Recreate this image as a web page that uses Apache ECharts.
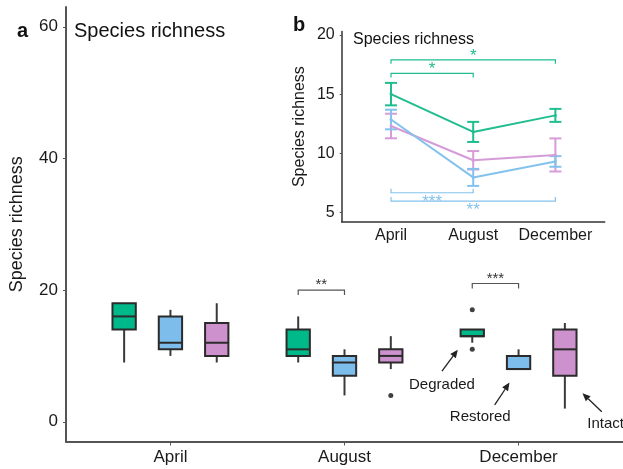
<!DOCTYPE html>
<html>
<head>
<meta charset="utf-8">
<script src="https://cdn.jsdelivr.net/npm/echarts@6/dist/echarts.min.js"></script>
<style>
  html, body { margin: 0; padding: 0; background: #fff; }
  #chart { width: 623px; height: 469px; }
</style>
</head>
<body>
<div id="chart"></div>
<script>
// --- data ---
const months = ['April', 'August', 'December'];
const groups = ['Degraded', 'Restored', 'Intact'];
// box stats per month: [min, Q1, median, Q3, max]
const degradedBox = [[9, 14, 16, 18, 18], [9, 10, 11, 14, 16], [12, 13, 13, 14, 14]];
const restoredBox = [[10, 11, 12, 16, 17], [4, 7, 9, 10, 11], [8, 8, 8, 10, 11]];
const intactBox = [[9, 10, 12, 15, 18], [8, 9, 10, 11, 13], [2, 7, 11, 14, 15]];
const degradedOutliers = [[], [], [17, 11]];
const restoredOutliers = [[], [], []];
const intactOutliers = [[], [4], []];
// inset: mean and standard error per month
const degradedMean = [15.0, 11.8, 13.2];
const degradedSE = [0.95, 0.85, 0.55];
const restoredMean = [12.85, 7.95, 9.3];
const restoredSE = [0.83, 0.72, 0.45];
const intactMean = [12.3, 9.4, 9.85];
const intactSE = [1.04, 0.78, 1.4];
// significance marks
const boxSig = [
  { month: 1, a: 0, b: 1, level: 20, stars: '**' },
  { month: 2, a: 0, b: 1, level: 21, stars: '***' }
];
const insetSig = [
  { group: 0, from: 0, to: 1, level: 16.75, stars: '*' },
  { group: 0, from: 0, to: 2, level: 17.9, stars: '*' },
  { group: 1, from: 0, to: 1, level: 6.65, stars: '***' },
  { group: 1, from: 0, to: 2, level: 5.95, stars: '**' }
];

const boxes = [degradedBox, restoredBox, intactBox];
const outliers = [degradedOutliers, restoredOutliers, intactOutliers];
const means = [degradedMean, restoredMean, intactMean];
const ses = [degradedSE, restoredSE, intactSE];

// --- layout / style ---
const FONT = "'Liberation Sans', Arial, sans-serif";
const fillColors = ['#00b98b', '#7cbdec', '#cd92cd'];
const lineColors = ['#1fbd8f', '#84c2ee', '#d59cd8'];
const offsets = [-0.266, 0, 0.266];
const boxHalf = 0.067;

const annotations = [
  { text: 'Degraded', tx: 2.56, ty: 5.6, from: [2.56, 7.7], to: [2.651, 10.95] },
  { text: 'Restored', tx: 2.78, ty: 0.7, from: [2.863, 2.55], to: [2.948, 5.95] },
  { text: 'Intact', tx: 3.5, ty: -0.35, from: [3.478, 1.53], to: [3.367, 4.34] }
];

const chart = echarts.init(document.getElementById('chart'));

function boxRender(params, api) {
  const x = api.value(0);
  const lo = api.coord([x, api.value(1)]);
  const q1 = api.coord([x, api.value(2)]);
  const md = api.coord([x, api.value(3)]);
  const q3 = api.coord([x, api.value(4)]);
  const hi = api.coord([x, api.value(5)]);
  const hw = api.size([boxHalf, 0])[0];
  const stroke = { stroke: '#2b2b2b', lineWidth: 2 };
  return {
    type: 'group',
    children: [
      { type: 'line', shape: { x1: hi[0], y1: hi[1], x2: q3[0], y2: q3[1] }, style: { stroke: '#3a3a3a', lineWidth: 2 } },
      { type: 'line', shape: { x1: q1[0], y1: q1[1], x2: lo[0], y2: lo[1] }, style: { stroke: '#3a3a3a', lineWidth: 2 } },
      { type: 'rect', shape: { x: q3[0] - hw, y: q3[1], width: hw * 2, height: q1[1] - q3[1] },
        style: Object.assign({ fill: api.visual('color') }, stroke) },
      { type: 'line', shape: { x1: md[0] - hw, y1: md[1], x2: md[0] + hw, y2: md[1] }, style: stroke }
    ]
  };
}

function errRender(params, api) {
  const x = api.value(0);
  const m = api.value(1);
  const se = api.value(2);
  const top = api.coord([x, m + se]);
  const bot = api.coord([x, m - se]);
  const c = api.visual('color');
  const cw = 6;
  const st = { stroke: c, lineWidth: 2 };
  return {
    type: 'group',
    children: [
      { type: 'line', shape: { x1: top[0], y1: top[1], x2: bot[0], y2: bot[1] }, style: st },
      { type: 'line', shape: { x1: top[0] - cw, y1: top[1], x2: top[0] + cw, y2: top[1] }, style: st },
      { type: 'line', shape: { x1: bot[0] - cw, y1: bot[1], x2: bot[0] + cw, y2: bot[1] }, style: st }
    ]
  };
}

function boxSigRender(params, api) {
  const s = boxSig[params.dataIndex];
  const xa = s.month + 1 + offsets[s.a];
  const xb = s.month + 1 + offsets[s.b];
  const p1 = api.coord([xa, s.level]);
  const p2 = api.coord([xb, s.level]);
  const leg = 5;
  return {
    type: 'group',
    children: [
      { type: 'polyline', shape: { points: [[p1[0], p1[1] + leg], p1, p2, [p2[0], p2[1] + leg]] },
        style: { stroke: '#555', lineWidth: 1.2, fill: null } },
      { type: 'text', x: (p1[0] + p2[0]) / 2, y: p1[1] - 5,
        style: { text: s.stars, fill: '#333', fontSize: 15, fontFamily: FONT, align: 'center', verticalAlign: 'middle' } }
    ]
  };
}

function insetSigRender(params, api) {
  const s = insetSig[params.dataIndex];
  const p1 = api.coord([s.from + 1, s.level]);
  const p2 = api.coord([s.to + 1, s.level]);
  const above = s.group === 0;
  const leg = above ? 4 : -4;
  const c = lineColors[s.group];
  const ty = above ? p1[1] - 4 : p1[1] + 9.5;
  return {
    type: 'group',
    children: [
      { type: 'polyline', shape: { points: [[p1[0], p1[1] + leg], p1, p2, [p2[0], p2[1] + leg]] },
        style: { stroke: c, lineWidth: 1.2, fill: null } },
      { type: 'text', x: (p1[0] + p2[0]) / 2, y: ty,
        style: { text: s.stars, fill: c, fontSize: 17, fontFamily: FONT, align: 'center', verticalAlign: 'middle' } }
    ]
  };
}

function annotRender(params, api) {
  const a = annotations[params.dataIndex];
  const t = api.coord([a.tx, a.ty]);
  const f = api.coord(a.from);
  const e = api.coord(a.to);
  const ang = Math.atan2(e[1] - f[1], e[0] - f[0]);
  const len = 8, wid = 3.5;
  const bx = e[0] - len * Math.cos(ang), by = e[1] - len * Math.sin(ang);
  const head = [
    e,
    [bx + wid * Math.sin(ang), by - wid * Math.cos(ang)],
    [bx - wid * Math.sin(ang), by + wid * Math.cos(ang)]
  ];
  return {
    type: 'group',
    children: [
      { type: 'line', shape: { x1: f[0], y1: f[1], x2: bx, y2: by }, style: { stroke: '#222', lineWidth: 1.3 } },
      { type: 'polygon', shape: { points: head }, style: { fill: '#222' } },
      { type: 'text', x: t[0], y: t[1],
        style: { text: a.text, fill: '#1a1a1a', fontSize: 15, fontFamily: FONT, align: 'center', verticalAlign: 'middle' } }
    ]
  };
}

const series = [];
groups.forEach(function (g, gi) {
  series.push({
    name: g + ' box',
    type: 'custom',
    xAxisIndex: 0, yAxisIndex: 0,
    itemStyle: { color: fillColors[gi] },
    renderItem: boxRender,
    encode: { x: 0, y: [1, 2, 3, 4, 5] },
    data: boxes[gi].map(function (b, mi) { return [mi + 1 + offsets[gi]].concat(b); }),
    z: 3
  });
  const pts = [];
  outliers[gi].forEach(function (list, mi) {
    list.forEach(function (v) { pts.push([mi + 1 + offsets[gi], v]); });
  });
  series.push({
    name: g + ' outliers',
    type: 'scatter',
    xAxisIndex: 0, yAxisIndex: 0,
    symbolSize: 5,
    itemStyle: { color: '#111' },
    data: pts,
    z: 4
  });
});

series.push({
  type: 'custom', xAxisIndex: 0, yAxisIndex: 0,
  renderItem: boxSigRender,
  data: boxSig.map(function (s) { return [s.month + 1, s.level]; }),
  z: 5
});
series.push({
  type: 'custom', xAxisIndex: 0, yAxisIndex: 0,
  renderItem: annotRender,
  data: annotations.map(function (a) { return [a.tx, a.ty]; }),
  z: 5
});

// inset
[2, 1, 0].forEach(function (gi) {
  series.push({
    name: groups[gi],
    type: 'line',
    xAxisIndex: 1, yAxisIndex: 1,
    symbol: 'circle', symbolSize: 3,
    lineStyle: { color: lineColors[gi], width: 2 },
    itemStyle: { color: lineColors[gi] },
    data: means[gi].map(function (v, mi) { return [mi + 1, v]; }),
    z: 6
  });
  series.push({
    type: 'custom',
    xAxisIndex: 1, yAxisIndex: 1,
    itemStyle: { color: lineColors[gi] },
    renderItem: errRender,
    data: means[gi].map(function (v, mi) { return [mi + 1, v, ses[gi][mi]]; }),
    z: 6
  });
});
series.push({
  type: 'custom', xAxisIndex: 1, yAxisIndex: 1,
  renderItem: insetSigRender,
  data: insetSig.map(function (s) { return [s.from + 1, s.level]; }),
  z: 6
});

const labelStyle = { color: '#1a1a1a', fontFamily: FONT };

chart.setOption({
  animation: false,
  backgroundColor: '#fff',
  title: [
    { text: 'a', left: 12, top: 16, textStyle: { fontSize: 20, fontWeight: 'bold', color: '#111', fontFamily: FONT } },
    { text: 'Species richness', left: 69, top: 16, textStyle: { fontSize: 20, fontWeight: 'normal', color: '#111', fontFamily: FONT } },
    { text: 'b', left: 288, top: 10, textStyle: { fontSize: 20, fontWeight: 'bold', color: '#111', fontFamily: FONT } },
    { text: 'Species richness', left: 348, top: 27, textStyle: { fontSize: 16, fontWeight: 'normal', color: '#111', fontFamily: FONT } }
  ],
  grid: [
    { left: 62, top: 7, width: 564.8, height: 434.5 },
    { left: 341.7, top: 31.5, width: 263, height: 190.2 }
  ],
  xAxis: [
    {
      type: 'value', gridIndex: 0, min: 0.4, max: 3.6,
      axisLine: { onZero: false, lineStyle: { color: '#555', width: 2 } },
      axisTick: { customValues: [1, 2, 3], length: 4, lineStyle: { color: '#555', width: 1 } },
      axisLabel: Object.assign({ customValues: [1, 2, 3], fontSize: 17, margin: 7,
        formatter: function (v) { return months[Math.round(v) - 1]; } }, labelStyle),
      splitLine: { show: false }
    },
    {
      type: 'value', gridIndex: 1, min: 0.4, max: 3.6,
      axisLine: { onZero: false, lineStyle: { color: '#333', width: 1.5 } },
      axisTick: { show: false },
      axisLabel: Object.assign({ customValues: [1, 2, 3], fontSize: 16, margin: 6,
        formatter: function (v) { return months[Math.round(v) - 1]; } }, labelStyle),
      splitLine: { show: false }
    }
  ],
  yAxis: [
    {
      type: 'value', gridIndex: 0, min: -3, max: 63,
      name: 'Species richness', nameLocation: 'middle', nameGap: 40,
      nameTextStyle: { fontSize: 18, color: '#1a1a1a', fontFamily: FONT },
      axisLine: { show: true, onZero: false, lineStyle: { color: '#555', width: 2 } },
      axisTick: { show: true, customValues: [0, 20, 40, 60], length: 3, lineStyle: { color: '#555', width: 1 } },
      axisLabel: Object.assign({ customValues: [0, 20, 40, 60], fontSize: 17, margin: 8 }, labelStyle),
      splitLine: { show: false }
    },
    {
      type: 'value', gridIndex: 1, min: 4.2, max: 20.3,
      name: 'Species richness', nameLocation: 'middle', nameGap: 34,
      nameTextStyle: { fontSize: 16, color: '#1a1a1a', fontFamily: FONT },
      axisLine: { show: true, onZero: false, lineStyle: { color: '#333', width: 1.5 } },
      axisTick: { show: true, customValues: [5, 10, 15, 20], length: 2, lineStyle: { color: '#555', width: 1 } },
      axisLabel: Object.assign({ customValues: [5, 10, 15, 20], fontSize: 16, margin: 7 }, labelStyle),
      splitLine: { show: false }
    }
  ],
  series: series
});
</script>
</body>
</html>
